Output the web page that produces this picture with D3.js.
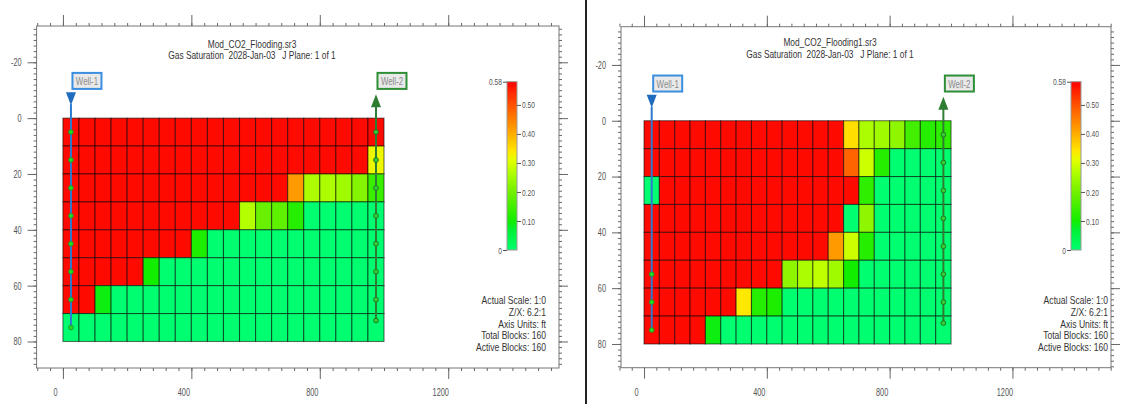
<!DOCTYPE html>
<html>
<head>
<meta charset="utf-8">
<script src="https://cdn.jsdelivr.net/npm/d3@7"></script>
<style>
  html, body { margin: 0; padding: 0; background: #fff; }
  svg { display: block; }
  text { font-family: "Liberation Sans", Arial, sans-serif; }
</style>
</head>
<body>
<svg id="chart" width="1128" height="404"></svg>
<script>
// ---- Grid geometry (ft): left edge of each column, top of each layer
const cellX = [0, 50, 100, 150, 200, 250, 300, 350, 400, 450, 500, 550, 600, 650, 700, 750, 800, 850, 900, 950];
const cellZ = [0, 10, 20, 30, 40, 50, 60, 70];
const cellW = 50;
const cellH = 10;

// ---- Gas saturation per block, layer by layer (top to bottom)
const gasSatFlooding = [
  [0.57,0.57,0.57,0.57,0.57,0.57,0.57,0.57,0.57,0.57,0.57,0.57,0.57,0.57,0.57,0.57,0.57,0.57,0.57,0.57],
  [0.57,0.57,0.57,0.57,0.57,0.57,0.57,0.57,0.57,0.57,0.57,0.57,0.57,0.57,0.57,0.57,0.57,0.57,0.57,0.32],
  [0.57,0.57,0.57,0.57,0.57,0.57,0.57,0.57,0.57,0.57,0.57,0.57,0.57,0.57,0.42,0.26,0.26,0.25,0.22,0.14],
  [0.57,0.57,0.57,0.57,0.57,0.57,0.57,0.57,0.57,0.57,0.57,0.27,0.19,0.18,0.12,0.00,0.00,0.00,0.00,0.00],
  [0.57,0.57,0.57,0.57,0.57,0.57,0.57,0.57,0.11,0.00,0.00,0.00,0.00,0.00,0.00,0.00,0.00,0.00,0.00,0.00],
  [0.57,0.57,0.57,0.57,0.57,0.10,0.00,0.00,0.00,0.00,0.00,0.00,0.00,0.00,0.00,0.00,0.00,0.00,0.00,0.00],
  [0.57,0.57,0.09,0.00,0.00,0.00,0.00,0.00,0.00,0.00,0.00,0.00,0.00,0.00,0.00,0.00,0.00,0.00,0.00,0.00],
  [0.00,0.00,0.00,0.00,0.00,0.00,0.00,0.00,0.00,0.00,0.00,0.00,0.00,0.00,0.00,0.00,0.00,0.00,0.00,0.00]
];
const gasSatFlooding1 = [
  [0.57,0.57,0.57,0.57,0.57,0.57,0.57,0.57,0.57,0.57,0.57,0.57,0.57,0.35,0.26,0.25,0.23,0.15,0.12,0.13],
  [0.57,0.57,0.57,0.57,0.57,0.57,0.57,0.57,0.57,0.57,0.57,0.57,0.57,0.48,0.29,0.12,0.00,0.00,0.00,0.00],
  [0.00,0.57,0.57,0.57,0.57,0.57,0.57,0.57,0.57,0.57,0.57,0.57,0.57,0.57,0.13,0.00,0.00,0.00,0.00,0.00],
  [0.57,0.57,0.57,0.57,0.57,0.57,0.57,0.57,0.57,0.57,0.57,0.57,0.57,0.00,0.23,0.00,0.00,0.00,0.00,0.00],
  [0.57,0.57,0.57,0.57,0.57,0.57,0.57,0.57,0.57,0.57,0.57,0.57,0.42,0.29,0.12,0.00,0.00,0.00,0.00,0.00],
  [0.57,0.57,0.57,0.57,0.57,0.57,0.57,0.57,0.57,0.23,0.26,0.28,0.25,0.10,0.00,0.00,0.00,0.00,0.00,0.00],
  [0.57,0.57,0.57,0.57,0.57,0.57,0.34,0.12,0.11,0.00,0.00,0.00,0.00,0.00,0.00,0.00,0.00,0.00,0.00,0.00],
  [0.57,0.57,0.57,0.57,0.09,0.00,0.00,0.00,0.00,0.00,0.00,0.00,0.00,0.00,0.00,0.00,0.00,0.00,0.00,0.00]
];

// ---- Wells: x location (ft) and perforation depths (ft)
const well1X = 25;
const well2X = 975;
const well1PerfsFlooding  = [5, 15, 25, 35, 45, 55, 65, 75];
const well1PerfsFlooding1 = [55, 65, 75];
const well2Perfs = [5, 15, 25, 35, 45, 55, 65, 72.5];

// ---- Axis ticks
const xTicks = [0, 400, 800, 1200];
const yTicks = [-20, 0, 20, 40, 60, 80];
const xMinorTicks = [-80,-40,0,40,80,120,160,200,240,280,320,360,400,440,480,520,560,600,640,680,720,760,800,840,880,920,960,1000,1040,1080,1120,1160,1200,1240,1280,1320,1360,1400,1440,1480,1520];
const yMinorTicks = [-32,-30,-28,-26,-24,-22,-20,-18,-16,-14,-12,-10,-8,-6,-4,-2,0,2,4,6,8,10,12,14,16,18,20,22,24,26,28,30,32,34,36,38,40,42,44,46,48,50,52,54,56,58,60,62,64,66,68,70,72,74,76,78,80,82,84,86,88];

// ---- Colour legend
const legendMin = 0;
const legendMax = 0.58;
const legendTicks = [0.10, 0.20, 0.30, 0.40, 0.50];
const legendStops = [0, 0.07, 0.10, 0.20, 0.27, 0.31, 0.34, 0.42, 0.50, 0.58];
const legendColors = ["#00ff70", "#00f034", "#12ee00", "#72f000", "#b4ff00", "#e4ff00", "#ffe800", "#ff9a00", "#ff5200", "#ff0000"];

const infoLines = ["Actual Scale: 1:0", "Z/X: 6.2:1", "Axis Units: ft", "Total Blocks: 160", "Active Blocks: 160"];
const subtitle = "Gas Saturation  2028-Jan-03   J Plane: 1 of 1";

const panels = [
  { file: "Mod_CO2_Flooding.sr3", sat: gasSatFlooding, well1Perfs: well1PerfsFlooding,
    frame: { x0: 36.6, x1: 559, y0: 26, y1: 368 }, xDom: [-82, 1545], yDom: [-33, 89.5],
    titleX: 252, titleY: 48, barX: 507, infoX: 546 },
  { file: "Mod_CO2_Flooding1.sr3", sat: gasSatFlooding1, well1Perfs: well1PerfsFlooding1,
    frame: { x0: 621, x1: 1111, y0: 26.7, y1: 367.7 }, xDom: [-75, 1521], yDom: [-33.7, 88.5],
    titleX: 830, titleY: 46.5, barX: 1071, infoX: 1108 }
];

// narrow lettering: squeeze each text horizontally about its anchor x
const condense = (sel, k, shift = 0) => sel.each(function () {
  const t = d3.select(this);
  const x0 = +t.attr("x") || 0;
  t.attr("transform", `translate(${x0 + shift},0) scale(${k},1) translate(${-x0},0)`);
});

const svg = d3.select("#chart");
const color = d3.scaleLinear().domain(legendStops).range(legendColors).clamp(true);

// gradient used by both colour bars
const defs = svg.append("defs");
const grad = defs.append("linearGradient").attr("id", "satGrad")
  .attr("x1", 0).attr("y1", 1).attr("x2", 0).attr("y2", 0);
grad.selectAll("stop").data(legendStops).join("stop")
  .attr("offset", d => (d - legendMin) / (legendMax - legendMin))
  .attr("stop-color", (d, i) => legendColors[i]);

// panel divider
svg.append("line").attr("x1", 586).attr("x2", 586).attr("y1", 0).attr("y2", 404)
  .attr("stroke", "#222").attr("stroke-width", 2);

panels.forEach(p => {
  const f = p.frame;
  const x = d3.scaleLinear().domain(p.xDom).range([f.x0, f.x1]);
  const y = d3.scaleLinear().domain(p.yDom).range([f.y0, f.y1]);
  const g = svg.append("g");

  // frame
  g.append("rect").attr("x", f.x0).attr("y", f.y0)
    .attr("width", f.x1 - f.x0).attr("height", f.y1 - f.y0)
    .attr("fill", "#fff").attr("stroke", "#777").attr("stroke-width", 1);

  const styleAxis = sel => {
    sel.select(".domain").remove();
    sel.selectAll("line").attr("stroke", "#666");
    sel.selectAll("text").attr("fill", "#555").attr("font-size", 10.5);
  };
  const plain = d => String(d);

  // minor ticks on all four sides
  g.append("g").attr("transform", `translate(0,${f.y1})`)
    .call(d3.axisBottom(x).tickValues(xMinorTicks).tickSize(3).tickFormat("")).call(styleAxis);
  g.append("g").attr("transform", `translate(0,${f.y0})`)
    .call(d3.axisTop(x).tickValues(xMinorTicks).tickSize(3).tickFormat("")).call(styleAxis);
  g.append("g").attr("transform", `translate(${f.x0},0)`)
    .call(d3.axisLeft(y).tickValues(yMinorTicks).tickSize(3).tickFormat("")).call(styleAxis);
  g.append("g").attr("transform", `translate(${f.x1},0)`)
    .call(d3.axisRight(y).tickValues(yMinorTicks).tickSize(3).tickFormat("")).call(styleAxis);

  // major ticks
  const xb = g.append("g").attr("transform", `translate(0,${f.y1})`)
    .call(d3.axisBottom(x).tickValues(xTicks).tickSize(11).tickPadding(10).tickFormat(plain))
    .call(styleAxis);
  condense(xb.selectAll("text"), 0.7, -8);
  g.append("g").attr("transform", `translate(0,${f.y0})`)
    .call(d3.axisTop(x).tickValues(xTicks).tickSize(11).tickFormat("")).call(styleAxis);
  const yl = g.append("g").attr("transform", `translate(${f.x0},0)`)
    .call(d3.axisLeft(y).tickValues(yTicks).tickSize(9).tickPadding(6).tickFormat(plain))
    .call(styleAxis);
  condense(yl.selectAll("text"), 0.7);
  g.append("g").attr("transform", `translate(${f.x1},0)`)
    .call(d3.axisRight(y).tickValues(yTicks).tickSize(9).tickFormat("")).call(styleAxis);

  // title
  const t1 = g.append("text").attr("x", p.titleX).attr("y", p.titleY).attr("text-anchor", "middle")
    .attr("font-size", 11).attr("fill", "#333").text(p.file);
  const t2 = g.append("text").attr("x", p.titleX).attr("y", p.titleY + 11.5).attr("text-anchor", "middle")
    .attr("font-size", 11).attr("fill", "#333").style("white-space", "pre")
    .text(subtitle);
  condense(t1, 0.76);
  condense(t2, 0.76);

  // blocks
  const cells = [];
  p.sat.forEach((row, r) => row.forEach((v, c) => cells.push({ x: cellX[c], z: cellZ[r], v })));
  g.append("g").selectAll("rect").data(cells).join("rect")
    .attr("x", d => x(d.x)).attr("y", d => y(d.z))
    .attr("width", d => x(d.x + cellW) - x(d.x)).attr("height", d => y(d.z + cellH) - y(d.z))
    .attr("fill", d => color(d.v))
    .attr("stroke", "rgba(0,0,0,0.55)").attr("stroke-width", 1.1);

  // Well-1 (injector, arrow down)
  const w1 = x(well1X), top0 = y(0);
  g.append("line").attr("x1", w1).attr("x2", w1).attr("y1", top0 - 14)
    .attr("y2", y(d3.max(well1PerfsFlooding)))
    .attr("stroke", "#2a7bd0").attr("stroke-width", 2);
  g.append("path")
    .attr("d", `M${w1 - 5},${top0 - 26} L${w1 + 5},${top0 - 26} L${w1},${top0 - 13} Z`)
    .attr("fill", "#1f6cbf");
  g.append("g").selectAll("circle").data(p.well1Perfs).join("circle")
    .attr("cx", w1).attr("cy", d => y(d)).attr("r", 2.4)
    .attr("fill", "#22dd22").attr("stroke", "#1a8a2a").attr("stroke-width", 0.8);

  // Well-2 (producer, arrow up)
  const w2 = x(well2X);
  g.append("line").attr("x1", w2).attr("x2", w2).attr("y1", top0 - 12)
    .attr("y2", y(d3.max(well2Perfs)))
    .attr("stroke", "#2e7d32").attr("stroke-width", 2);
  g.append("path")
    .attr("d", `M${w2 - 5},${top0 - 11} L${w2 + 5},${top0 - 11} L${w2},${top0 - 24} Z`)
    .attr("fill", "#2e7d32");
  g.append("g").selectAll("circle").data(well2Perfs).join("circle")
    .attr("cx", w2).attr("cy", d => y(d)).attr("r", 2.4)
    .attr("fill", "#33cc33").attr("stroke", "#1f6f25").attr("stroke-width", 0.9);

  // well labels
  const wellLabel = (wx, name, stroke) => {
    const bx = wx + 1.5, by = y(-16.2);
    g.append("rect").attr("x", bx).attr("y", by).attr("width", 29).attr("height", 16)
      .attr("fill", "#e9e9e9").attr("stroke", stroke).attr("stroke-width", 2);
    const t = g.append("text").attr("x", bx + 14.5).attr("y", by + 12).attr("text-anchor", "middle")
      .attr("font-size", 10.5).attr("fill", "#8a8a8a").text(name);
    condense(t, 0.75);
  };
  wellLabel(w1, "Well-1", "#3b8ee0");
  wellLabel(w2, "Well-2", "#2f8f36");

  // colour bar
  const ly = d3.scaleLinear().domain([legendMin, legendMax]).range([250, 81.7]);
  g.append("rect").attr("x", p.barX).attr("y", ly(legendMax)).attr("width", 10)
    .attr("height", ly(legendMin) - ly(legendMax))
    .attr("fill", "url(#satGrad)").attr("stroke", "#999").attr("stroke-width", 1);
  const lr = g.append("g").attr("transform", `translate(${p.barX + 10},0)`)
    .call(d3.axisRight(ly).tickValues(legendTicks).tickSize(4).tickPadding(1).tickFormat(d3.format(".2f")));
  lr.select(".domain").remove();
  lr.selectAll("line").attr("stroke", "#555");
  lr.selectAll("text").attr("fill", "#555").attr("font-size", 9.5);
  condense(lr.selectAll("text"), 0.7);
  const ll = g.append("g").attr("transform", `translate(${p.barX},0)`)
    .call(d3.axisLeft(ly).tickValues([legendMin, legendMax]).tickSize(4).tickPadding(1)
      .tickFormat(d => d === 0 ? "0" : d3.format(".2f")(d)));
  ll.select(".domain").remove();
  ll.selectAll("line").attr("stroke", "#555");
  ll.selectAll("text").attr("fill", "#555").attr("font-size", 9.5);
  condense(ll.selectAll("text"), 0.7);

  // grid summary
  const info = g.append("g").selectAll("text").data(infoLines).join("text")
    .attr("x", p.infoX).attr("y", (d, i) => 304.5 + i * 11.6)
    .attr("text-anchor", "end").attr("font-size", 11).attr("fill", "#333").text(d => d);
  condense(info, 0.78);
});
</script>
</body>
</html>
